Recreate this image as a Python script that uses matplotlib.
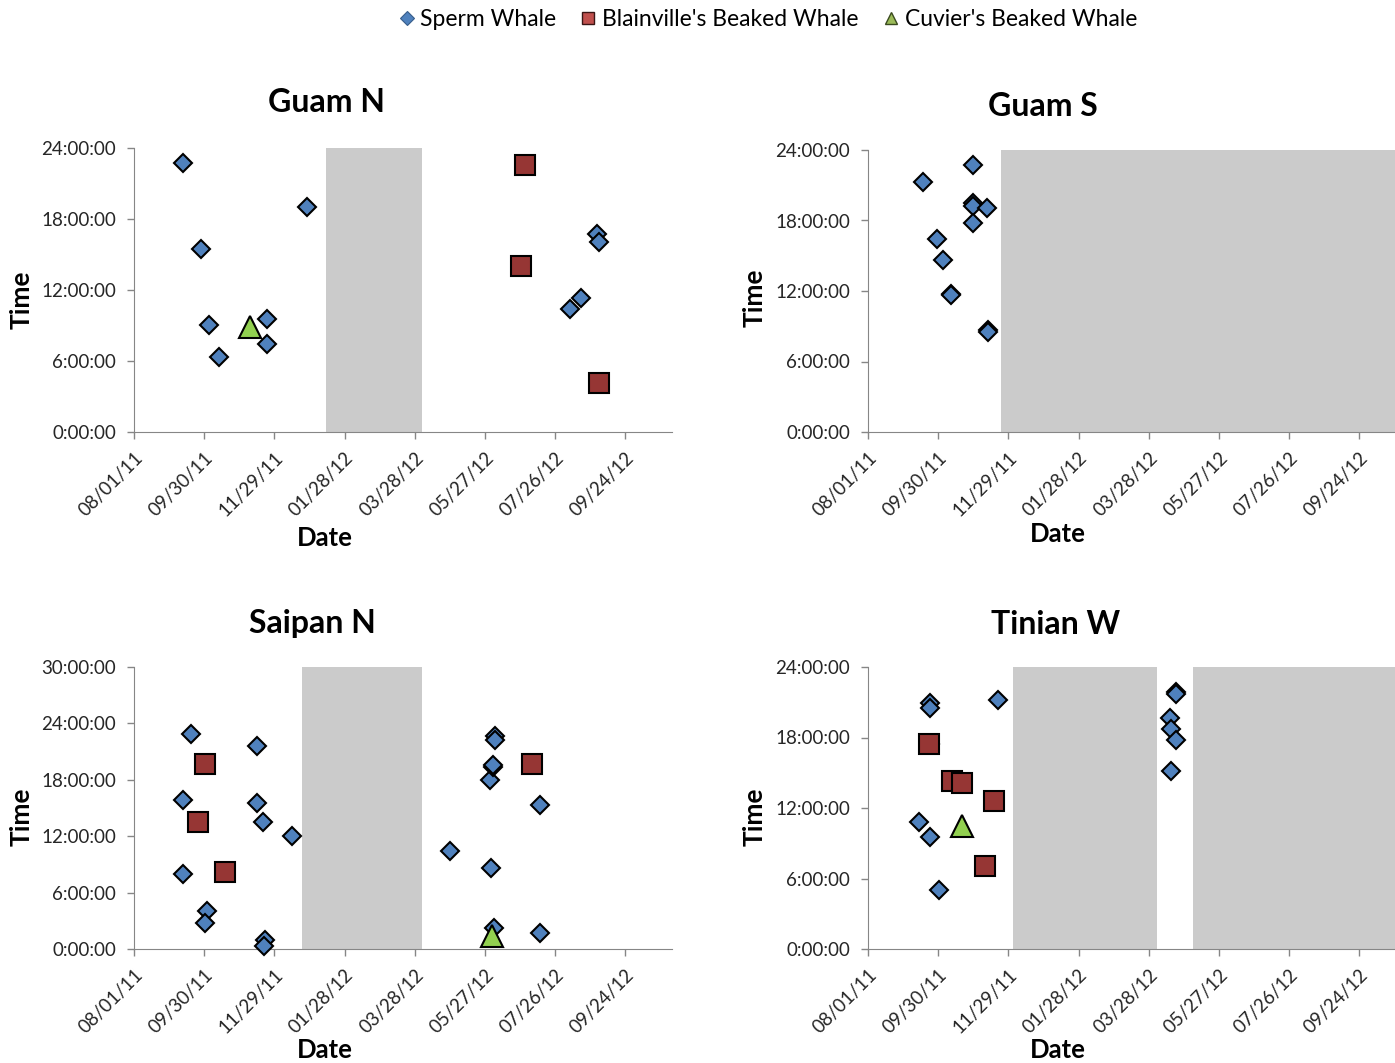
import pandas as pd
import matplotlib
matplotlib.use("Agg")
import matplotlib.pyplot as plt
import matplotlib.dates as mdates
from matplotlib.lines import Line2D

plt.rcParams['font.family'] = ['Lato', 'DejaVu Sans']

# -----------------------------
# Data (dates of detection, hour of day)
# -----------------------------
x_start = "2011-08-01"
x_end = "2012-11-03"

# Guam N
guamn_sperm_date = ["2011-09-12", "2011-09-27", "2011-10-04", "2011-10-13", "2011-11-23",
                    "2011-11-23", "2011-12-27", "2012-08-08", "2012-08-17", "2012-08-31",
                    "2012-09-02"]
guamn_sperm_hour = [22.7, 15.45, 9.05, 6.3, 9.55, 7.4, 19.05, 10.4, 11.35, 16.7, 16.05]
guamn_blain_date = ["2012-06-30", "2012-06-27", "2012-09-02"]
guamn_blain_hour = [22.55, 14.0, 4.15]
guamn_cuv_date = ["2011-11-08"]
guamn_cuv_hour = [8.85]
guamn_gaps = [("2012-01-12", "2012-04-03")]

# Guam S
guams_sperm_date = ["2011-09-17", "2011-09-29", "2011-10-04", "2011-10-11", "2011-10-11",
                    "2011-10-30", "2011-10-30", "2011-10-30", "2011-10-30", "2011-11-11",
                    "2011-11-12", "2011-11-12"]
guams_sperm_hour = [21.25, 16.4, 14.6, 11.75, 11.65, 22.7, 19.5, 19.2, 17.8, 19.05, 8.65, 8.5]
guams_blain_date = []
guams_blain_hour = []
guams_cuv_date = []
guams_cuv_hour = []
guams_gaps = [("2011-11-23", x_end)]

# Saipan N
saipan_sperm_date = ["2011-09-19", "2011-09-12", "2011-09-12", "2011-10-02", "2011-10-01",
                     "2011-11-14", "2011-11-14", "2011-11-19", "2011-11-21", "2011-11-20",
                     "2011-12-14", "2012-04-27", "2012-06-01", "2012-05-31", "2012-06-03",
                     "2012-06-03", "2012-06-05", "2012-06-05", "2012-06-04", "2012-07-13",
                     "2012-07-13"]
saipan_sperm_hour = [22.9, 15.8, 8.0, 4.0, 2.8, 21.6, 15.5, 13.5, 0.95, 0.3, 12.0,
                     10.4, 8.6, 18.0, 19.4, 19.6, 22.7, 22.2, 2.2, 15.3, 1.7]
saipan_blain_date = ["2011-10-01", "2011-09-25", "2011-10-18", "2012-07-06"]
saipan_blain_hour = [19.7, 13.5, 8.2, 19.7]
saipan_cuv_date = ["2012-06-02"]
saipan_cuv_hour = [1.4]
saipan_gaps = [("2011-12-23", "2012-04-03")]

# Tinian W
tinian_sperm_date = ["2011-09-23", "2011-09-23", "2011-09-23", "2011-09-14", "2011-09-23",
                     "2011-10-01", "2011-11-20", "2012-04-15", "2012-04-16", "2012-04-20",
                     "2012-04-16", "2012-04-20", "2012-04-20"]
tinian_sperm_hour = [20.9, 20.5, 17.45, 10.8, 9.5, 5.05, 21.2, 19.7, 18.7, 17.8, 15.15, 21.85, 21.7]
tinian_blain_date = ["2011-09-22", "2011-10-12", "2011-10-20", "2011-11-17", "2011-11-09"]
tinian_blain_hour = [17.45, 14.3, 14.1, 12.6, 7.1]
tinian_cuv_date = ["2011-10-20"]
tinian_cuv_hour = [10.45]
tinian_gaps = [("2011-12-03", "2012-04-04"), ("2012-05-05", x_end)]

# -----------------------------
# Styles
# -----------------------------
axis_grey = "#868686"
shade_grey = "#CBCBCB"
sperm_style = dict(marker="D", color="#4F81BD", mec="black", mew=1.5, ms=9.5)
blain_style = dict(marker="s", color="#963634", mec="black", mew=1.5, ms=14.5)
cuv_style = dict(marker="^", color="#92D050", mec="black", mew=1.5, ms=15.5)

fig = plt.figure(figsize=(13.95, 10.63), dpi=100)


def hour_label(h):
    return f"{int(h)}:00:00"


def draw_panel(rect, title, title_xy, time_xy, date_xy, sperm, blain, cuv, gaps, ymax):
    ax = fig.add_axes(rect)
    for g0, g1 in gaps:
        ax.axvspan(pd.to_datetime(g0), pd.to_datetime(g1), color=shade_grey, lw=0, zorder=1)
    for (d, h), st in [(sperm, sperm_style), (blain, blain_style), (cuv, cuv_style)]:
        if len(d):
            ax.plot(pd.to_datetime(d), h, ls="none", zorder=3, clip_on=False, **st)

    ax.set_xlim(pd.to_datetime(x_start), pd.to_datetime(x_end))
    ax.set_ylim(0, ymax)
    ticks = pd.date_range(x_start, periods=8, freq="60D")
    ax.set_xticks(ticks)
    ax.xaxis.set_major_formatter(mdates.DateFormatter("%m/%d/%y"))
    yt = list(range(0, ymax + 1, 6))
    ax.set_yticks(yt)
    ax.set_yticklabels([hour_label(v) for v in yt])
    for lab in ax.get_xticklabels():
        lab.set_rotation(45)
        lab.set_ha("right")
        lab.set_va("top")
        lab.set_rotation_mode("anchor")

    ax.spines["top"].set_visible(False)
    ax.spines["right"].set_visible(False)
    ax.spines["left"].set_color(axis_grey)
    ax.spines["bottom"].set_color(axis_grey)
    ax.tick_params(axis="both", colors=axis_grey, length=5, width=1, labelsize=13.5,
                   labelcolor="#262626")
    ax.tick_params(axis="x", pad=7)
    ax.tick_params(axis="y", pad=8)

    fig.text(title_xy[0] / 1395, 1 - title_xy[1] / 1063, title, fontsize=23,
             fontweight="bold", ha="center", va="center")
    fig.text(time_xy[0] / 1395, 1 - time_xy[1] / 1063, "Time", fontsize=19,
             fontweight="bold", ha="center", va="center", rotation=90)
    fig.text(date_xy[0] / 1395, 1 - date_xy[1] / 1063, "Date", fontsize=18.5,
             fontweight="bold", ha="center", va="center")
    return ax


W = 538 / 1395
draw_panel([134 / 1395, 1 - 432 / 1063, W, 284 / 1063], "Guam N", (327, 103), (22, 300), (325, 538),
           (guamn_sperm_date, guamn_sperm_hour), (guamn_blain_date, guamn_blain_hour),
           (guamn_cuv_date, guamn_cuv_hour), guamn_gaps, 24)
draw_panel([868 / 1395, 1 - 432 / 1063, W, 282 / 1063], "Guam S", (1043, 106), (755, 298), (1058, 534),
           (guams_sperm_date, guams_sperm_hour), (guams_blain_date, guams_blain_hour),
           (guams_cuv_date, guams_cuv_hour), guams_gaps, 24)
draw_panel([134 / 1395, 1 - 949 / 1063, W, 282 / 1063], "Saipan N", (312, 624), (22, 817), (325, 1050),
           (saipan_sperm_date, saipan_sperm_hour), (saipan_blain_date, saipan_blain_hour),
           (saipan_cuv_date, saipan_cuv_hour), saipan_gaps, 30)
draw_panel([868 / 1395, 1 - 949 / 1063, W, 282 / 1063], "Tinian W", (1056, 624), (755, 817), (1058, 1050),
           (tinian_sperm_date, tinian_sperm_hour), (tinian_blain_date, tinian_blain_hour),
           (tinian_cuv_date, tinian_cuv_hour), tinian_gaps, 24)

# -----------------------------
# Legend
# -----------------------------
handles = [
    Line2D([], [], ls="none", marker="D", color="#4F81BD", mec="#385D8A", mew=0.8, ms=7),
    Line2D([], [], ls="none", marker="s", color="#C0504D", mec="#3A1615", mew=1.0, ms=9),
    Line2D([], [], ls="none", marker="^", color="#9BBB59", mec="#3A4A1F", mew=1.0, ms=9),
]
fig.legend(handles, ["Sperm Whale", "Blainville's Beaked Whale", "Cuvier's Beaked Whale"],
           loc="center", bbox_to_anchor=(766 / 1395, 1 - 20 / 1063), ncol=3, frameon=False,
           fontsize=16.5, handletextpad=0.1, columnspacing=0.9, handlelength=1.0)

fig.savefig("out.png", dpi=100)
